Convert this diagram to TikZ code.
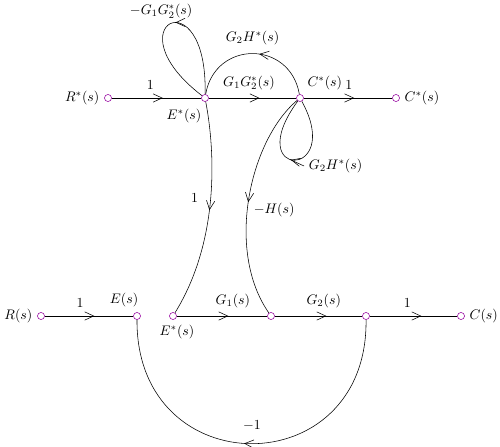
\documentclass[tikz,border=0pt]{standalone}
\usepackage{amsmath}
\usetikzlibrary{arrows.meta,decorations.markings,positioning}
\definecolor{sigpurple}{RGB}{150,0,160}

\begin{document}
\begin{tikzpicture}[
    x=0.254mm, y=-0.254mm,
    >={Straight Barb[length=6.5pt,width=6pt]},
    sig/.style={circle, draw=sigpurple, fill=white, inner sep=0pt, minimum size=1.8mm},
    flow/.style={postaction={decorate}, decoration={markings, mark=at position #1 with {\arrow{>}}}},
    flow/.default=0.57,
    gain/.style={above=2.5pt}
]
\useasboundingbox (0,0) rectangle (500,447);

% Sampled graph - top row
\node[sig, label=left:$R^*(s)$] (rstar) at (108,98) {};
\node[sig, label={[xshift=1mm, yshift=-0.8mm]below left:$E^*(s)$}] (estar) at (205,98) {};
\node[sig, label=above right:$C^*(s)$] (cstar) at (300,98) {};
\node[sig, label=right:$C^*(s)$] (cout) at (396,98) {};

% Continuous graph - bottom row
\node[sig, label=left:$R(s)$] (rs) at (41,316) {};
\node[sig, label={[xshift=-3.3mm]above:$E(s)$}] (es) at (137,316) {};
\node[sig, label={[xshift=1mm]below:$E^*(s)$}] (esb) at (173,316) {};
\node[sig] (g1n) at (271,316) {};
\node[sig] (g2n) at (366,316) {};
\node[sig, label=right:$C(s)$] (cs) at (461,316) {};

% Forward branches - top
\draw[flow] (rstar) -- node[gain, pos=0.43] {$1$} (estar);
\draw[flow=0.58] (estar) -- node[gain, pos=0.46] {$G_1G_2^*(s)$} (cstar);
\draw[flow] (cstar) -- node[gain, pos=0.51] {$1$} (cout);

% Loops of the sampled graph
\draw[flow=0.47] (estar) .. controls (208,-25) and (110,25) .. (estar)
    node[pos=0.42, above=-0.5pt, xshift=-4mm] {$-G_1G_2^*(s)$};
\draw[flow=0.45] (cstar) .. controls (290,40) and (215,40) .. (estar)
    node[pos=0.5, above=1mm] {$G_2H^*(s)$};
\draw[flow=0.52] (cstar) .. controls (345,180) and (240,180) .. (cstar)
    coordinate[pos=0.55] (cloop);
\node[right] (lbc) at (304,166) {$G_2H^*(s)$};
\draw (cloop) -- (lbc.west);

% Links between the two graphs
\draw[flow=0.5] (estar) .. controls (215,150) and (220,240) .. (esb)
    node[pos=0.5, left=2mm] {$1$};
\draw[flow=0.5] (cstar) .. controls (250,140) and (225,250) .. (g1n)
    node[pos=0.5, below right] {$-H(s)$};

% Forward branches - bottom
\draw[flow=0.56] (rs) -- node[gain, pos=0.4] {$1$} (es);
\draw[flow=0.57] (esb) -- node[gain, pos=0.62] {$G_1(s)$} (g1n);
\draw[flow=0.59] (g1n) -- node[gain, pos=0.56] {$G_2(s)$} (g2n);
\draw[flow=0.59] (g2n) -- node[gain, pos=0.43] {$1$} (cs);

% Unity feedback
\draw[flow=0.52] (g2n) .. controls (368,485) and (136,485) .. (es)
    node[pos=0.5, above=2mm] {$-1$};

\end{tikzpicture}
\end{document}
